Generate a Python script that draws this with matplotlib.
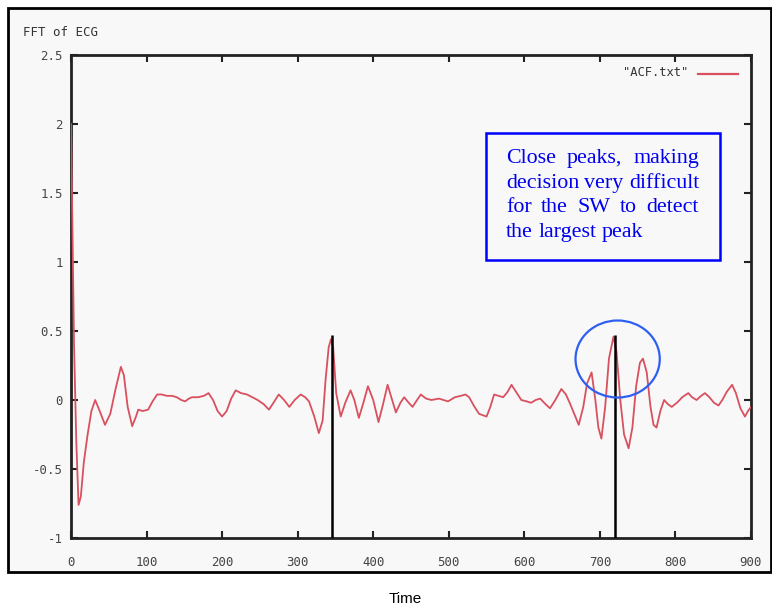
import matplotlib
matplotlib.use("Agg")
import matplotlib.pyplot as plt
from matplotlib.patches import Rectangle, Ellipse
from matplotlib.lines import Line2D

# ---- data ----
time = [0, 2, 4, 7, 10, 13, 17, 22, 27, 32, 38, 45, 52, 59, 66, 70, 75, 81, 86, 89,
        95, 102, 108, 114, 120, 127, 134, 140, 146, 151, 156, 160, 168, 176, 182, 188,
        194, 200, 206, 212, 218, 225, 233, 240, 247, 255, 262, 268, 275, 282, 289, 296,
        304, 310, 315, 322, 328, 333, 337, 341, 344, 347, 351, 357, 363, 370, 375, 381,
        387, 393, 400, 407, 413, 419, 425, 430, 436, 441, 447, 452, 458, 463, 470, 477,
        487, 499, 508, 516, 522, 527, 533, 540, 550, 555, 560, 566, 572, 578, 583, 590,
        596, 603, 609, 615, 621, 628, 634, 641, 649, 655, 660, 666, 672, 678, 683, 689,
        694, 698, 702, 707, 712, 718, 722, 727, 732, 738, 743, 748, 753, 757, 762, 767,
        771, 775, 780, 785, 790, 795, 802, 809, 817, 822, 828, 834, 839, 845, 851, 857,
        862, 868, 875, 880, 886, 892, 896, 900]
acf = [2.0, 1.2, 0.4, -0.3, -0.76, -0.7, -0.45, -0.25, -0.08, 0.0, -0.08, -0.18, -0.1,
       0.08, 0.24, 0.18, -0.05, -0.19, -0.12, -0.07, -0.08, -0.07, -0.01, 0.04, 0.04,
       0.03, 0.03, 0.02, 0.0, -0.01, 0.01, 0.02, 0.02, 0.03, 0.05, 0.0, -0.08, -0.12,
       -0.08, 0.01, 0.07, 0.05, 0.04, 0.02, 0.0, -0.03, -0.07, -0.02, 0.04, 0.0, -0.05,
       0.0, 0.04, 0.02, -0.01, -0.12, -0.24, -0.15, 0.15, 0.38, 0.44, 0.38, 0.05, -0.12,
       -0.02, 0.07, 0.0, -0.13, -0.02, 0.1, 0.0, -0.16, -0.03, 0.11, 0.0, -0.09, -0.02,
       0.02, -0.02, -0.05, 0.0, 0.04, 0.01, 0.0, 0.01, -0.01, 0.02, 0.03, 0.04, 0.02,
       -0.04, -0.1, -0.12, -0.05, 0.04, 0.03, 0.02, 0.06, 0.11, 0.05, 0.0, -0.01, -0.02,
       0.0, 0.01, -0.03, -0.06, 0.0, 0.08, 0.04, -0.02, -0.1, -0.18, -0.05, 0.12, 0.2,
       0.0, -0.2, -0.28, -0.05, 0.3, 0.46, 0.35, 0.0, -0.25, -0.35, -0.2, 0.1, 0.27, 0.3,
       0.2, -0.05, -0.18, -0.2, -0.08, 0.0, -0.03, -0.05, -0.02, 0.02, 0.05, 0.02, 0.0,
       0.03, 0.05, 0.02, -0.02, -0.04, 0.0, 0.06, 0.11, 0.05, -0.06, -0.12, -0.08, -0.05]
peak_times = [345, 720]
peak_top = 0.47

x_ticks = [0, 100, 200, 300, 400, 500, 600, 700, 800, 900]
y_ticks = [-1, -0.5, 0, 0.5, 1, 1.5, 2, 2.5]
y_ticklabels = ["-1", "-0.5", "0", "0.5", "1", "1.5", "2", "2.5"]

note_lines = [["Close", "peaks,", "making"],
              ["decision", "very", "difficult"],
              ["for", "the", "SW", "to", "detect"],
              ["the", "largest", "peak"]]

W, H = 772, 612
fig = plt.figure(figsize=(W / 100, H / 100), dpi=100)
fig.patch.set_facecolor("white")

def fx(px):
    return px / W

def fy(py):
    return 1 - py / H

mono = "DejaVu Sans Mono"

# outer image frame
fig.add_artist(Rectangle((fx(8), fy(572)), fx(771) - fx(8), fy(8) - fy(572),
                         transform=fig.transFigure, facecolor="#f8f8f8",
                         edgecolor="black", lw=2, zorder=0))

ax = fig.add_axes([fx(71), fy(538), fx(751) - fx(71), fy(55) - fy(538)])
ax.set_facecolor("#f8f8f8")
ax.set_xlim(0, 900)
ax.set_ylim(-1, 2.5)

ax.plot(time, acf, color="#d9505f", lw=1.3, zorder=3)
ax.vlines(peak_times, -1, peak_top, color="black", lw=1.8, zorder=4)

for s in ax.spines.values():
    s.set_linewidth(2)
    s.set_color("#222222")

ax.set_xticks(x_ticks)
ax.set_xticklabels([str(t) for t in x_ticks])
ax.set_yticks(y_ticks)
ax.set_yticklabels(y_ticklabels)
ax.tick_params(direction="in", length=5, width=1.5, top=True, right=True,
               colors="#222222", labelcolor="#444444", labelsize=8.9)
for lab in ax.get_xticklabels() + ax.get_yticklabels():
    lab.set_family(mono)
ax.tick_params(axis="x", pad=13)
ax.tick_params(axis="y", pad=6)

# y label at top-left (gnuplot style)
fig.text(fx(23), fy(33), "FFT of ECG", fontsize=8.9, color="#333333",
         ha="left", va="center", family=mono)

# legend
fig.text(fx(688), fy(73), '"ACF.txt"', fontsize=8.7, color="#333333",
         ha="right", va="center", family=mono)
fig.add_artist(Line2D([fx(698), fx(738)], [fy(74), fy(74)], color="#d9505f", lw=1.6,
                      transform=fig.transFigure))

# annotation box
fig.add_artist(Rectangle((fx(486), fy(260)), fx(720) - fx(486), fy(133) - fy(260),
                         transform=fig.transFigure, fill=False, edgecolor="#0000ff",
                         lw=1.8, zorder=5))

fig.canvas.draw()
renderer = fig.canvas.get_renderer()
left_px, right_px = 506, 699
baselines = [163, 188, 212, 237]
font = dict(family="Liberation Serif", fontsize=15.8, color="#0000ee")
m1 = fig.text(0, 0, "a b", **font)
m2 = fig.text(0, 0, "ab", **font)
space = m1.get_window_extent(renderer).width - m2.get_window_extent(renderer).width
m1.remove()
m2.remove()
for i, words in enumerate(note_lines):
    texts = [fig.text(0, 0, w, ha="left", va="baseline", **font) for w in words]
    widths = [t.get_window_extent(renderer).width for t in texts]
    last = i == len(note_lines) - 1
    if last:
        gap = space
    else:
        gap = (right_px - left_px - sum(widths)) / (len(words) - 1)
    x = left_px
    for t, w in zip(texts, widths):
        t.set_position((fx(x), fy(baselines[i])))
        x += w + gap

# circle around the peaks
ax.add_patch(Ellipse((723.5, 0.297), 111.5, 0.558, fill=False, edgecolor="#2f5ff0",
                     lw=1.6, zorder=6, clip_on=False))

fig.text(fx(405), fy(599), "Time", fontsize=11, family="Liberation Sans",
         ha="center", va="center", color="black")

fig.savefig("out.png", dpi=100)
